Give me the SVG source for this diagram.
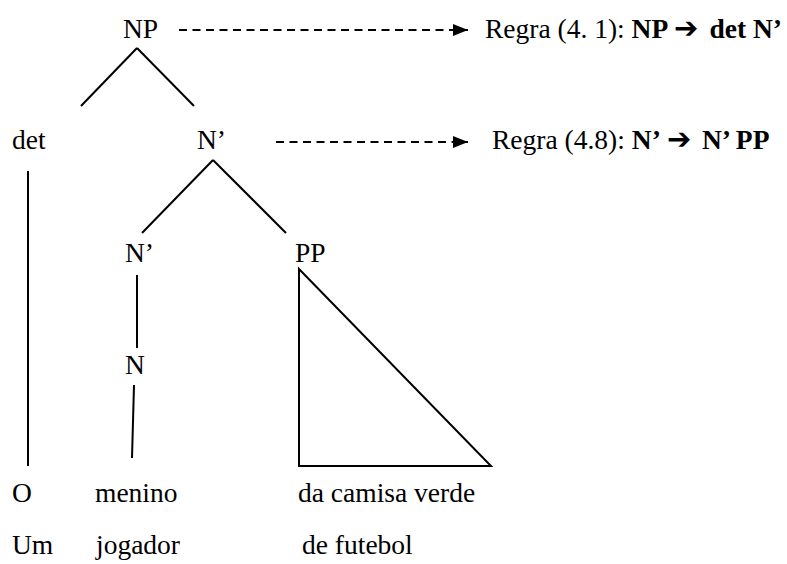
<svg xmlns="http://www.w3.org/2000/svg" width="787" height="564" viewBox="0 0 787 564">
<defs>
<style>
text{font-family:'Liberation Serif','Times New Roman',serif;font-size:27.5px;fill:#000}
.b{font-weight:bold}
.arr{font-family:'DejaVu Sans',sans-serif;font-weight:bold;font-size:29px}
.ln{stroke:#000;stroke-width:2;fill:none}
.dash{stroke:#000;stroke-width:2;stroke-dasharray:8,5.5;fill:none}
</style>
<marker id="ah" viewBox="0 0 15 12" refX="15" refY="6" markerWidth="15" markerHeight="12" markerUnits="userSpaceOnUse" orient="auto">
<path d="M0,0 L15,6 L0,12 Z" fill="#000"/>
</marker>
</defs>
<rect width="787" height="564" fill="#fff"/>
<g id="connectors">
<line class="ln" x1="137" y1="48" x2="81" y2="106"/>
<line class="ln" x1="137" y1="48" x2="194" y2="106"/>
<line class="ln" x1="213" y1="160" x2="142" y2="233"/>
<line class="ln" x1="213" y1="160" x2="286" y2="233"/>
<line class="ln" x1="28" y1="171" x2="28" y2="466"/>
<line class="ln" x1="137" y1="275" x2="137" y2="348"/>
<line class="ln" x1="134" y1="385" x2="132" y2="458"/>
<polygon class="ln" points="299,269 299,466 491,466"/>
<line class="dash" x1="179" y1="30" x2="468" y2="30" marker-end="url(#ah)"/>
<line class="dash" x1="276" y1="142" x2="468" y2="142" marker-end="url(#ah)"/>
</g>
<g font-family="'Liberation Serif', serif">
<g id="node-NP"><text x="123" y="38">NP</text></g>
<g id="node-det"><text x="12" y="149">det</text></g>
<g id="node-N1"><text x="197" y="149">N’</text></g>
<g id="node-N2"><text x="125" y="262">N’</text></g>
<g id="node-PP"><text x="295" y="262">PP</text></g>
<g id="node-N"><text x="125" y="374">N</text></g>
<g id="rule1"><text x="485" y="38">Regra (4. 1): </text><text class="b" x="631.6" y="38">NP</text><text class="arr" x="674" y="38">➔</text><text class="b" x="709.4" y="38">det N’</text></g>
<g id="rule2"><text x="492" y="149">Regra (4.8): </text><text class="b" x="631.8" y="149">N’</text><text class="arr" x="667" y="149">➔</text><text class="b" x="702" y="149">N’ PP</text></g>
<g id="words1"><text x="12" y="502">O</text><text x="95" y="502">menino</text><text x="298" y="502">da camisa verde</text></g>
<g id="words2"><text x="12" y="554">Um</text><text x="96" y="554">jogador</text><text x="302" y="554">de futebol</text></g>
</g>
</svg>
